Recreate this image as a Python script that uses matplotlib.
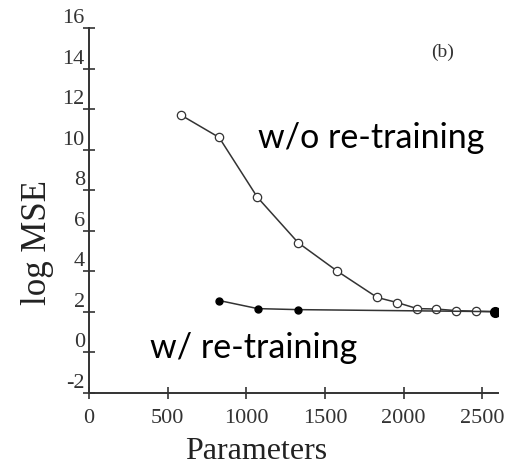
"""
Recreate the log-MSE vs. parameters plot (panel b) with and without re-training.
"""
import matplotlib
matplotlib.use('Agg')
import matplotlib.pyplot as plt

# Data
PARAMS_NO_RETRAIN = [585, 827, 1070, 1330, 1578, 1832, 1959, 2086, 2207, 2335, 2462, 2583]
MSE_NO_RETRAIN = [11.7, 10.6, 7.65, 5.4, 4.0, 2.7, 2.45, 2.15, 2.13, 2.05, 2.02, 2.0]

PARAMS_RETRAIN = [827, 1073, 1330, 2583]
MSE_RETRAIN = [2.55, 2.15, 2.1, 2.0]

X_TICKS = [0, 500, 1000, 1500, 2000, 2500]
Y_TICKS = [-2, 0, 2, 4, 6, 8, 10, 12, 14, 16]

SERIF = 'Liberation Serif'
SANS = 'Lato'
DARK = '#333333'

fig = plt.figure(figsize=(5.17, 4.66), dpi=100)
ax = fig.add_axes([89 / 517, 1 - 392.7 / 466, 409 / 517, 364.7 / 466])

# w/o re-training: open circles
ax.plot(PARAMS_NO_RETRAIN, MSE_NO_RETRAIN, '-', color=DARK, linewidth=1.1,
        marker='o', markersize=6, markerfacecolor='white',
        markeredgecolor=DARK, markeredgewidth=0.9)

# w/ re-training: filled circles
ax.plot(PARAMS_RETRAIN, MSE_RETRAIN, '-', color=DARK, linewidth=1.1,
        marker='o', markersize=5, markerfacecolor='black',
        markeredgecolor='black')
ax.plot(PARAMS_RETRAIN[-1:], MSE_RETRAIN[-1:], 'o', color='black', markersize=7)

ax.set_xlim(0, 2600)
ax.set_ylim(-2, 16)

ax.spines['top'].set_visible(False)
ax.spines['right'].set_visible(False)
for side in ['left', 'bottom']:
    ax.spines[side].set_color(DARK)
    ax.spines[side].set_linewidth(1.4)

ax.set_xticks(X_TICKS)
ax.set_yticks(Y_TICKS)
ax.set_xticklabels([str(t) for t in X_TICKS], fontfamily=SERIF, fontsize=16, color=DARK)
ax.set_yticklabels([str(t) for t in Y_TICKS], fontfamily=SERIF, fontsize=16, color=DARK,
                   va='bottom')
ax.tick_params(axis='both', direction='inout', length=8, width=1.2, color=DARK)
ax.tick_params(axis='y', pad=-1)
ax.tick_params(axis='x', pad=8)

ax.set_ylabel('log MSE', fontfamily=SERIF, fontsize=25, color='#222222', va='center')
ax.yaxis.set_label_coords(-0.125, 0.413)
ax.set_xlabel('Parameters', fontfamily=SERIF, fontsize=23, color='#222222', va='center')
ax.xaxis.set_label_coords(0.408, -0.16)

# Annotations
ax.text(2250, 14.8, '(b)', fontfamily=SERIF, fontsize=14, color=DARK,
        ha='center', va='center')
ax.text(1075, 10.1, 'w/o re-training', fontfamily=SANS, fontsize=24.5, color='black',
        ha='left', va='baseline')
ax.text(390, -0.3, 'w/ re-training', fontfamily=SANS, fontsize=24.5, color='black',
        ha='left', va='baseline')

fig.savefig('out.png', dpi=100)
